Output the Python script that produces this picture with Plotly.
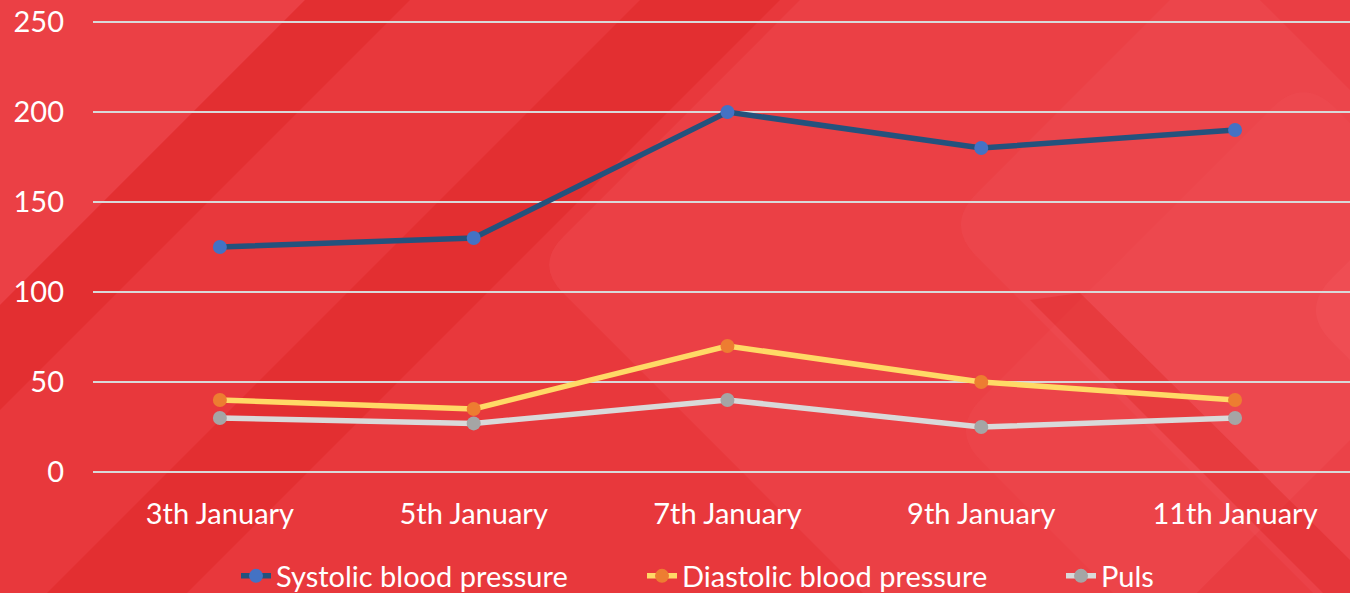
import math
import plotly.graph_objects as go

# ---- data ----
categories = ["3th January", "5th January", "7th January", "9th January", "11th January"]
systolic = [125, 130, 200, 180, 190]
diastolic = [40, 35, 70, 50, 40]
puls = [30, 27, 40, 25, 30]
y_ticks = [0, 50, 100, 150, 200, 250]

W, H = 1350, 593
PXU = 1.8                      # pixels per y unit
L_M, T_M, B_M = 93, 17, 116
PW, PH = W - L_M, H - T_M - B_M
Y0_PX = 472                    # pixel row of value 0
y_lo = -(H - B_M - Y0_PX) / PXU
y_hi = y_lo + PH / PXU

def fx(px):
    return (px - L_M) / PW

def fy(py):
    return (H - B_M - py) / PH

def poly(points):
    return "M " + " L ".join(f"{fx(x):.5f},{fy(y):.5f}" for x, y in points) + " Z"

def diamond(cx, cy, side, r):
    d = side / math.sqrt(2)
    verts = [(cx, cy), (cx + d, cy - d), (cx + 2 * d, cy), (cx + d, cy + d)]
    n = len(verts)
    parts = []
    def toward(a, b, t):
        L = math.hypot(b[0] - a[0], b[1] - a[1])
        return (a[0] + (b[0] - a[0]) * t / L, a[1] + (b[1] - a[1]) * t / L)
    for i in range(n):
        p0, p1, p2 = verts[i - 1], verts[i], verts[(i + 1) % n]
        a = toward(p1, p0, r)
        b = toward(p1, p2, r)
        parts.append(("M " if i == 0 else "L ") + f"{fx(a[0]):.5f},{fy(a[1]):.5f}")
        parts.append(f"Q {fx(p1[0]):.5f},{fy(p1[1]):.5f} {fx(b[0]):.5f},{fy(b[1]):.5f}")
    parts.append("Z")
    return " ".join(parts)

LIGHT = "rgba(246,95,105,0.22)"
DARK = "rgba(215,25,20,0.28)"

shapes = []
def add(path, fill):
    shapes.append(dict(type="path", xref="paper", yref="paper", path=path,
                       fillcolor=fill, line=dict(width=0), layer="below"))

# subtle background decoration (diagonal rounded tiles)
add(poly([(-20, -20), (325, -20), (-20, 325)]), LIGHT)
add(poly([(325, -20), (430, -20), (-20, 430), (-20, 325)]), DARK)
add(poly([(660, -20), (800, -20), (-20, 800), (-20, 660)]), DARK)
add(diamond(535, 265, 700, 40), LIGHT)
add(diamond(945, 225, 600, 45), "rgba(246,95,105,0.18)")
add(diamond(950, 430, 500, 45), "rgba(246,95,105,0.12)")
add(diamond(1300, 310, 500, 45), LIGHT)
add(poly([(1080, 293), (1350, 560), (1350, 620), (1030, 300)]), DARK)

fig = go.Figure()
series = [
    ("Systolic blood pressure", systolic, "#24527D", "#4472C4", "legend"),
    ("Diastolic blood pressure", diastolic, "#FFD966", "#ED7D31", "legend2"),
    ("Puls", puls, "#D9D9D9", "#A5A5A5", "legend3"),
]
for name, vals, lc, mc, lg in series:
    fig.add_trace(go.Scatter(
        x=categories, y=vals, name=name, mode="lines+markers",
        line=dict(color=lc, width=5.5),
        marker=dict(color=mc, size=14),
        cliponaxis=False, legend=lg,
    ))

FONT = "Lato, Carlito, Calibri, sans-serif"

def legend_at(px):
    return dict(orientation="h", x=fx(px), xanchor="left", y=fy(576), yanchor="middle",
                font=dict(size=29, color="white"), bgcolor="rgba(0,0,0,0)")

fig.update_layout(
    width=W, height=H,
    margin=dict(l=L_M, r=0, t=T_M, b=B_M, pad=0, autoexpand=False),
    paper_bgcolor="#E8383C",
    plot_bgcolor="rgba(0,0,0,0)",
    font=dict(family=FONT, size=29, color="white"),
    shapes=shapes,
    showlegend=True,
    legend=legend_at(236),
    legend2=legend_at(642),
    legend3=legend_at(1061),
    xaxis=dict(type="category", range=[-0.5, 4.453], showgrid=False, zeroline=False,
               showline=False, ticks="", ticklabelstandoff=17,
               tickfont=dict(size=29, color="white")),
    yaxis=dict(range=[y_lo, y_hi], tickvals=y_ticks, showgrid=True, gridcolor="#D9D9D9",
               gridwidth=1.6, zeroline=False, showline=False, ticks="",
               ticklabelstandoff=28, tickfont=dict(size=29, color="white")),
)

fig.write_html("out.html", config={"displayModeBar": False},
               post_script="document.body.style.margin='0';")
